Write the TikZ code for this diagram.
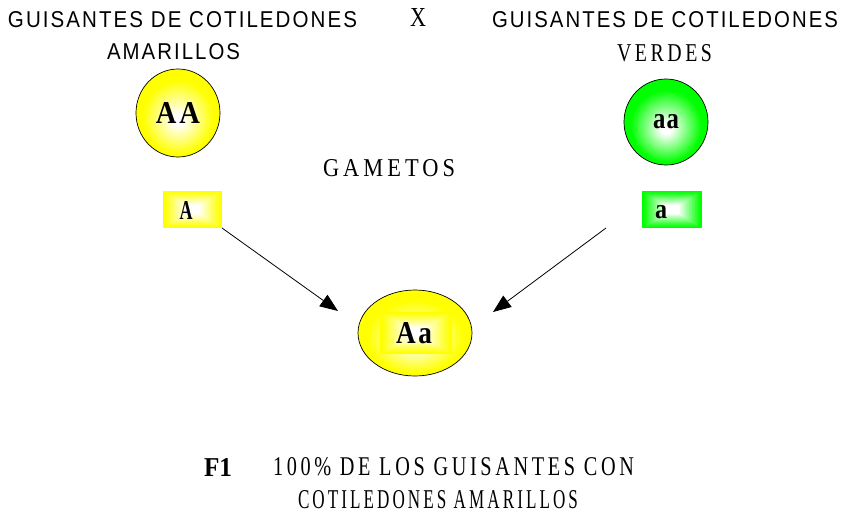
\documentclass[tikz,border=0pt]{standalone}
\usepackage{fontspec}
\usepackage{graphicx}
\usetikzlibrary{shapes.geometric,arrows.meta}
\setmainfont{Liberation Serif}
\newfontfamily\nsans[LetterSpace=10]{Liberation Sans}
\newfontfamily\sserif[LetterSpace=18]{Liberation Serif}
\newfontfamily\bserif{Liberation Serif}
\definecolor{gy}{RGB}{255,255,0}
\definecolor{gg}{RGB}{0,255,0}
\pgfdeclareradialshading{yelsh}{\pgfpoint{0bp}{-4bp}}{color(0bp)=(white); color(3bp)=(white); color(21bp)=(gy); color(25bp)=(gy); color(50bp)=(gy)}
\pgfdeclareradialshading{grnsh}{\pgfpoint{0bp}{-4bp}}{color(0bp)=(white); color(3bp)=(white); color(21bp)=(gg); color(25bp)=(gg); color(50bp)=(gg)}
\newcommand\fsans[3]{\resizebox{#1}{#2}{\nsans #3}}
\newcommand\fserif[3]{\resizebox{#1}{#2}{\sserif #3}}
\newcommand\fbold[3]{\resizebox{#1}{#2}{\bserif\bfseries #3}}
\newcommand\rgrad[5]{%
  \foreach \k in {0,...,39}{%
    \pgfmathtruncatemacro\pp{max(0,min(100,106-3.4*\k))}%
    \fill[#5!\pp!white] ({#1-#3/2+\k*#3/80},{#2-#4/2+\k*#4/80}) rectangle ({#1+#3/2-\k*#3/80},{#2+#4/2-\k*#4/80});
  }}
\begin{document}
\begin{tikzpicture}[x=1pt,y=-1pt,
  txt/.style={inner sep=0pt, outer sep=0pt},
  ellbase/.style={ellipse, draw=black, line width=0.7pt, inner sep=0pt},
  yelell/.style={ellbase, shading=yelsh, shade},
  grnell/.style={ellbase, shading=grnsh, shade},
  boxn/.style={inner sep=0pt, outer sep=0pt},
  arr/.style={line width=0.8pt, -{Triangle[length=18pt,width=14pt]}}]
\useasboundingbox (0,0) rectangle (844,514);

% top titles
\node[txt, anchor=south west] (l1) at (8,28) {\fsans{349pt}{16pt}{GUISANTES DE COTILEDONES}};
\node[txt, anchor=south west] (l2) at (107,60) {\fsans{133pt}{16pt}{AMARILLOS}};
\node[txt, anchor=south west] (xx) at (410,27) {\fserif{16pt}{18pt}{X}};
\node[txt, anchor=south west] (r1) at (492,28) {\fsans{346pt}{16pt}{GUISANTES DE COTILEDONES}};
\node[txt, anchor=south west] (r2) at (617,62) {\fserif{95pt}{17pt}{VERDES}};

% parents
\node[yelell, minimum width=84pt, minimum height=88pt] (AA) at (178,113) {\fbold{44pt}{21pt}{A\hspace{0.1em}A}};
\node[grnell, minimum width=84pt, minimum height=86pt] (aa) at (666,122) {\fbold{26pt}{14pt}{a\hspace{0.05em}a}};

% gametes
\node[txt, anchor=south west] (gam) at (323,177) {\fserif{132pt}{17pt}{GAMETOS}};
\rgrad{192.5}{209.5}{59}{37}{gy}
\node[boxn, minimum width=59pt, minimum height=37pt] (Ab) at (192.5,209.5) {};
\node[txt] (At) at (186,210) {\fbold{13pt}{18pt}{A}};
\rgrad{672}{209.5}{60}{37}{gg}
\node[boxn, minimum width=60pt, minimum height=37pt] (ab) at (672,209.5) {};
\node[txt, anchor=south] (at) at (661,219) {\fbold{12pt}{13pt}{a}};

% offspring
\node[yelell, minimum width=114pt, minimum height=86pt] (Aa) at (415,333) {};
\rgrad{416}{333}{72}{42}{gy}
\node[boxn, minimum width=72pt, minimum height=42pt] (Aab) at (416,333) {};
\node[txt] (Aat) at (414,333.5) {\fbold{36pt}{21pt}{A\hspace{0.1em}a}};

% arrows
\coordinate (t1) at (338,311);
\coordinate (s2) at (606,228);
\coordinate (t2) at (493,312);
\draw[arr] (Ab.south east) -- (t1);
\draw[arr] (s2) -- (t2);

% bottom text
\node[txt, anchor=south west] (f1) at (204,476) {\fbold{28pt}{18pt}{F1}};
\node[txt, anchor=south west] (b1) at (273,476) {\fserif{361pt}{18pt}{100\% DE LOS GUISANTES CON}};
\node[txt, anchor=south west] (b2) at (298,509) {\fserif{280pt}{18pt}{COTILEDONES AMARILLOS}};
\end{tikzpicture}
\end{document}
